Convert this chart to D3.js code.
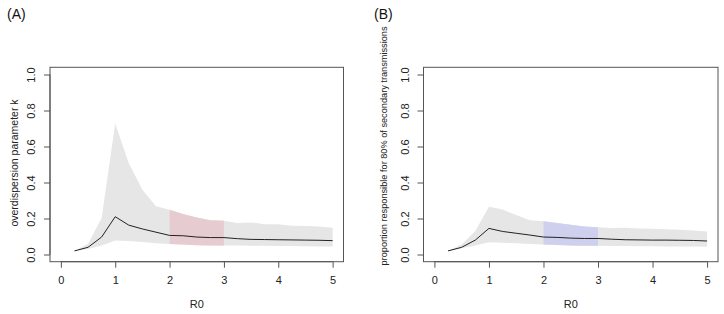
<!DOCTYPE html>
<html><head><meta charset="utf-8">
<script src="https://cdn.jsdelivr.net/npm/d3@7"></script>
<style>body{margin:0;background:#fff}svg{display:block}text{font-family:"Liberation Sans",Arial,sans-serif}</style>
</head><body><svg id="c" width="724" height="314"></svg>
<script>
const R0 = [0.25,0.5,0.75,1,1.25,1.5,1.75,2,2.25,2.5,2.75,3,3.25,3.5,3.75,4,4.25,4.5,4.75,5];
const kMedian = [0.02,0.04,0.097,0.21,0.163,0.142,0.124,0.106,0.104,0.097,0.094,0.094,0.088,0.084,0.083,0.082,0.081,0.080,0.079,0.077];
const kUpper  = [0.02,0.06,0.203,0.728,0.507,0.36,0.268,0.249,0.225,0.206,0.19,0.187,0.175,0.178,0.168,0.168,0.16,0.158,0.155,0.148];
const kLower  = [0.02,0.03,0.05,0.078,0.075,0.07,0.062,0.058,0.055,0.052,0.05,0.05,0.05,0.048,0.048,0.047,0.047,0.046,0.045,0.044];
const pMedian = [0.02,0.04,0.08,0.145,0.128,0.118,0.108,0.097,0.095,0.091,0.089,0.089,0.085,0.082,0.081,0.080,0.080,0.079,0.078,0.075];
const pUpper  = [0.02,0.055,0.13,0.265,0.25,0.22,0.19,0.185,0.175,0.165,0.155,0.152,0.147,0.148,0.145,0.143,0.14,0.137,0.133,0.128];
const pLower  = [0.02,0.035,0.05,0.068,0.065,0.062,0.058,0.055,0.053,0.05,0.048,0.048,0.047,0.047,0.046,0.046,0.045,0.045,0.044,0.043];
const xTicks = [0,1,2,3,4,5];
const yTicks = [0,0.2,0.4,0.6,0.8,1.0];
const highlightRange = [2,3];
const panelTitles = ["(A)","(B)"];
const yLabels = ["overdispersion parameter k","proportion responsible for 80% of secondary transmissions"];
const xLabel = "R0";

const svg = d3.select("#c");
const panels = [
  {title:panelTitles[0], ylab:yLabels[0], med:kMedian, up:kUpper, lo:kLower, hl:"#e6ccd0",
   left:50, right:343.5, titleX:7, ylabX:14, ylabY:163, ylabSize:10.5},
  {title:panelTitles[1], ylab:yLabels[1], med:pMedian, up:pUpper, lo:pLower, hl:"#cfd0ee",
   left:423.5, right:718, titleX:374, ylabX:384, ylabY:146, ylabSize:9.2}
];
const plotTop = 67.3, plotBottom = 261.7;
const axisCol = "#555", textCol = "#222";

panels.forEach(p => {
  const x = d3.scaleLinear().domain([-0.2,5.2]).range([p.left,p.right]);
  const y = d3.scaleLinear().domain([-0.04,1.04]).range([plotBottom,plotTop]);
  const g = svg.append("g");
  const data = R0.map((r,i)=>({r, m:p.med[i], u:p.up[i], l:p.lo[i]}));
  const area = d3.area().x(d=>x(d.r)).y0(d=>y(d.l)).y1(d=>y(d.u));
  g.append("path").attr("d",area(data)).attr("fill","#e6e6e6");
  const sub = data.filter(d=>d.r>=highlightRange[0] && d.r<=highlightRange[1]);
  g.append("path").attr("d",area(sub)).attr("fill",p.hl);
  g.append("path").attr("d",d3.line().x(d=>x(d.r)).y(d=>y(d.m))(data))
    .attr("fill","none").attr("stroke","#222").attr("stroke-width",1);
  g.append("rect").attr("x",p.left).attr("y",plotTop).attr("width",p.right-p.left).attr("height",plotBottom-plotTop)
    .attr("fill","none").attr("stroke",axisCol).attr("stroke-width",1);
  const xa = g.append("g").attr("transform",`translate(0,${plotBottom})`)
    .call(d3.axisBottom(x).tickValues(xTicks).tickFormat(d3.format("d")).tickSize(6).tickPadding(9));
  xa.select(".domain").attr("d",`M${x(0)},0H${x(5)}`).attr("stroke",axisCol);
  xa.selectAll(".tick line").attr("stroke",axisCol);
  xa.selectAll("text").attr("fill",textCol).style("font-size","11px");
  const ya = g.append("g").attr("transform",`translate(${p.left},0)`)
    .call(d3.axisLeft(y).tickValues(yTicks).tickFormat(d3.format(".1f")).tickSize(6));
  ya.select(".domain").attr("d",`M0,${y(0)}V${y(1)}`).attr("stroke",axisCol);
  ya.selectAll(".tick line").attr("stroke",axisCol);
  ya.selectAll("text").attr("fill",textCol).style("font-size","11px")
    .attr("x",0).attr("dy",null).attr("text-anchor","middle")
    .attr("transform","translate(-15,0) rotate(-90)");
  svg.append("text").attr("x",(p.left+p.right)/2).attr("y",308).attr("text-anchor","middle")
    .attr("fill",textCol).style("font-size","11px").text(xLabel);
  svg.append("text").attr("transform",`translate(${p.ylabX},${p.ylabY}) rotate(-90)`)
    .attr("text-anchor","middle").attr("dy","0.35em").attr("fill",textCol)
    .style("font-size",p.ylabSize+"px").text(p.ylab);
  svg.append("text").attr("x",p.titleX).attr("y",19).attr("fill","#111")
    .style("font-size","14px").text(p.title);
});
</script></body></html>
